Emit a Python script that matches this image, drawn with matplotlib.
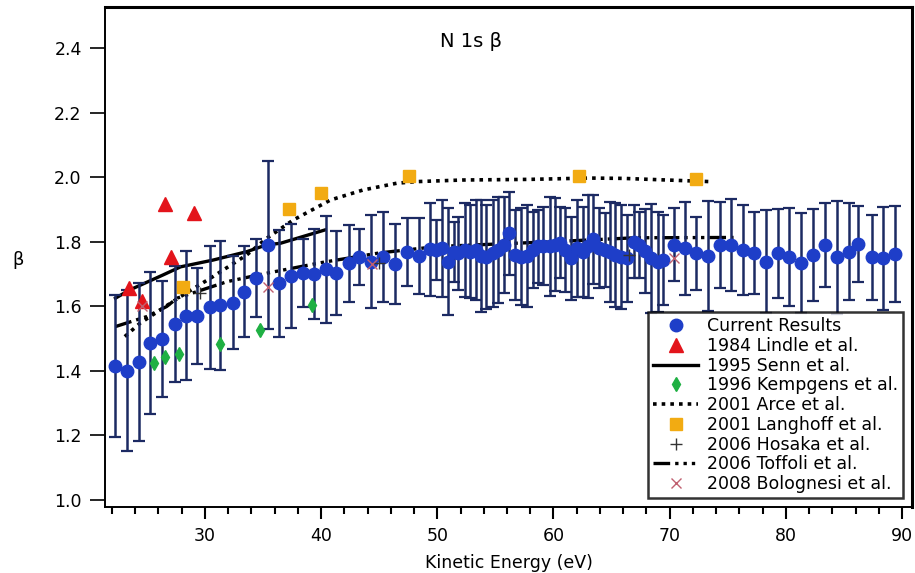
import matplotlib
matplotlib.use("Agg")
import matplotlib.pyplot as plt

plt.rcParams['font.family'] = ['DejaVu Sans']

# Current results: kinetic energy (eV), beta and its uncertainty
ke = [22.3, 23.3, 24.3, 25.3, 26.3, 27.4, 28.4, 29.3, 30.4, 31.3,
      32.4, 33.4, 34.4, 35.4, 36.4, 37.4, 38.4, 39.4, 40.4, 41.3,
      42.4, 43.3, 44.3, 45.3, 46.4, 47.4, 48.4,
      49.4, 49.9, 50.4, 50.9, 51.4, 51.8, 52.4, 52.8, 53.3, 53.8,
      54.2, 54.8, 55.2, 55.7, 56.2, 56.7, 57.2, 57.7, 58.2, 58.7,
      59.1, 59.7, 60.1, 60.6, 61.0, 61.5, 62.0, 62.5, 63.0, 63.4,
      63.9, 64.4, 64.9, 65.3, 65.8, 66.3, 66.9, 67.4, 67.9, 68.4,
      69.0, 69.4,
      70.4, 71.3, 72.3, 73.3, 74.3, 75.3, 76.3, 77.3, 78.3, 79.3,
      80.3, 81.3, 82.3, 83.4, 84.4, 85.4, 86.2, 87.4, 88.4, 89.4]
beta = [1.415, 1.400, 1.428, 1.485, 1.498, 1.545, 1.571, 1.570, 1.597, 1.603,
        1.611, 1.645, 1.687, 1.790, 1.671, 1.694, 1.702, 1.700, 1.714, 1.702,
        1.733, 1.753, 1.738, 1.753, 1.731, 1.769, 1.756,
        1.776, 1.774, 1.779, 1.738, 1.769, 1.764, 1.774, 1.769, 1.774, 1.756,
        1.753, 1.764, 1.774, 1.790, 1.826, 1.759, 1.753, 1.756, 1.774, 1.785,
        1.787, 1.785, 1.790, 1.797, 1.774, 1.748, 1.779, 1.769, 1.785, 1.807,
        1.779, 1.774, 1.769, 1.759, 1.753, 1.748, 1.800, 1.790, 1.770, 1.748,
        1.738, 1.743,
        1.790, 1.779, 1.764, 1.756, 1.790, 1.790, 1.774, 1.764, 1.738, 1.764,
        1.753, 1.733, 1.759, 1.790, 1.751, 1.769, 1.793, 1.751, 1.748, 1.762]
beta_err = [0.22, 0.25, 0.245, 0.22, 0.18, 0.18, 0.20, 0.148, 0.19, 0.20,
            0.145, 0.14, 0.12, 0.26, 0.165, 0.16, 0.105, 0.14, 0.165, 0.13,
            0.12, 0.087, 0.145, 0.14, 0.124, 0.105, 0.118,
            0.143, 0.093, 0.15, 0.165, 0.093, 0.113, 0.145, 0.145, 0.155, 0.173,
            0.161, 0.165, 0.165, 0.149, 0.129, 0.139, 0.15, 0.158, 0.119, 0.113,
            0.121, 0.154, 0.144, 0.111, 0.129, 0.129, 0.15, 0.139, 0.16, 0.138,
            0.124, 0.114, 0.155, 0.16, 0.161, 0.135, 0.114, 0.103, 0.13, 0.17,
            0.155, 0.14,
            0.113, 0.143, 0.113, 0.17, 0.134, 0.143, 0.14, 0.127, 0.16, 0.137,
            0.152, 0.155, 0.142, 0.131, 0.175, 0.15, 0.118, 0.132, 0.16, 0.148]

# 1984 Lindle et al.
lindle_ke = [23.5, 24.6, 26.6, 27.1, 29.1]
lindle_beta = [1.656, 1.617, 1.916, 1.752, 1.888]

# 1995 Senn et al.
senn_ke = [22.3, 23.5, 26.4, 27.9, 30.7, 33.6, 35.3, 36.5, 40.3]
senn_beta = [1.625, 1.650, 1.697, 1.722, 1.743, 1.769, 1.790, 1.795, 1.836]

# 1996 Kempgens et al.
kemp_ke = [25.6, 26.6, 27.8, 31.3, 34.7, 39.2]
kemp_beta = [1.423, 1.444, 1.452, 1.483, 1.527, 1.604]

# 2001 Arce et al.
arce_ke = [23.1, 24.4, 27.9, 30.7, 33.6, 35.3, 37.6, 40.8, 43.6, 46.5,
           48.2, 52.2, 58.0, 63.1, 66.0, 73.5]
arce_beta = [1.506, 1.547, 1.630, 1.692, 1.759, 1.810, 1.867, 1.929, 1.960, 1.981,
             1.986, 1.991, 1.993, 1.997, 1.996, 1.986]

# 2001 Langhoff et al.
lang_ke = [28.1, 37.2, 40.0, 47.6, 62.2, 72.3]
lang_beta = [1.661, 1.900, 1.952, 2.003, 2.003, 1.995]

# 2006 Hosaka et al.
hosaka_ke = [29.6, 45.0, 66.5]
hosaka_beta = [1.640, 1.735, 1.760]

# 2006 Toffoli et al.
toff_ke = [22.3, 25.0, 26.7, 27.6, 31.9, 35.0, 40.0, 45.0, 50.0, 60.0, 67.0, 75.5]
toff_beta = [1.537, 1.568, 1.599, 1.625, 1.676, 1.700, 1.735, 1.765, 1.785, 1.800, 1.812, 1.813]

# 2008 Bolognesi et al.
bolo_ke = [24.6, 35.4, 44.4, 70.4]
bolo_beta = [1.600, 1.661, 1.730, 1.748]

fig = plt.figure(figsize=(9.15, 5.73), dpi=100)
ax = fig.add_axes([0.1148, 0.1152, 0.8819, 0.8726])

senn, = ax.plot(senn_ke, senn_beta, color='black', lw=2.4, zorder=2,
                label='1995 Senn et al.')
arce, = ax.plot(arce_ke, arce_beta, color='black', lw=2.6, ls=(0, (1, 1.4)),
                zorder=2, label='2001 Arce et al.')
toff, = ax.plot(toff_ke, toff_beta, color='black', lw=2.4,
                ls=(0, (5, 1.5, 1, 1.5, 1, 1.5, 1, 1.5)), zorder=2,
                label='2006 Toffoli et al.')

ax.errorbar(ke, beta, yerr=beta_err, fmt='none', ecolor='#1c2a63',
            elinewidth=1.8, capsize=4.5, capthick=1.6, zorder=3)
cur, = ax.plot(ke, beta, 'o', color='#1e3ec8', ms=9, mec='#1e3ec8',
               zorder=4, label='Current Results')

lindle, = ax.plot(lindle_ke, lindle_beta, '^', color='#e3141b', ms=9.5,
                  zorder=5, label='1984 Lindle et al.')
kemp, = ax.plot(kemp_ke, kemp_beta, 'd', color='#1fb043', ms=7.5,
                zorder=5, label='1996 Kempgens et al.')
lang, = ax.plot(lang_ke, lang_beta, 's', color='#f2ab12', ms=9,
                zorder=5, label='2001 Langhoff et al.')
hosaka, = ax.plot(hosaka_ke, hosaka_beta, '+', color='#333333', ms=9,
                  mew=1.0, zorder=5, label='2006 Hosaka et al.')
bolo, = ax.plot(bolo_ke, bolo_beta, 'x', color='#c06070', ms=7.5,
                mew=1.0, zorder=5, label='2008 Bolognesi et al.')

ax.set_xlim(21.4, 90.86)
ax.set_ylim(0.978, 2.527)
ax.set_yticks([1.0, 1.2, 1.4, 1.6, 1.8, 2.0, 2.2, 2.4])
ax.set_xticks([30, 40, 50, 60, 70, 80, 90])
ax.set_xticks(range(22, 91, 2), minor=True)
ax.tick_params(axis='y', length=10.8, width=1.2, labelsize=12.5, pad=6)
ax.tick_params(axis='x', which='major', length=8.6, width=1.5, labelsize=12.5, pad=6)
ax.tick_params(axis='x', which='minor', length=5, width=1.5)
ax.tick_params(axis='y', which='minor', left=False)
for side in ['left', 'bottom']:
    ax.spines[side].set_linewidth(1.4)
for side in ['top', 'right']:
    ax.spines[side].set_linewidth(2.2)

ax.set_xlabel('Kinetic Energy (eV)', fontsize=12.5, labelpad=6)
ax.set_ylabel('β', fontsize=13, rotation=0)
ax.yaxis.set_label_coords(-0.108, 0.475)
ax.text(0.4535, 0.93, 'N 1s β', transform=ax.transAxes, fontsize=14,
        ha='center', va='center')

handles = [cur, lindle, senn, kemp, arce, lang, hosaka, toff, bolo]
leg = ax.legend(handles=handles, loc='lower right', fontsize=12.5,
                frameon=True, fancybox=False, edgecolor='black',
                borderaxespad=0.5, handlelength=2.6, handletextpad=0.5,
                labelspacing=0.1, borderpad=0.3)
leg.get_frame().set_linewidth(1.8)
leg.set_zorder(10)

fig.savefig('out.png', dpi=100)
